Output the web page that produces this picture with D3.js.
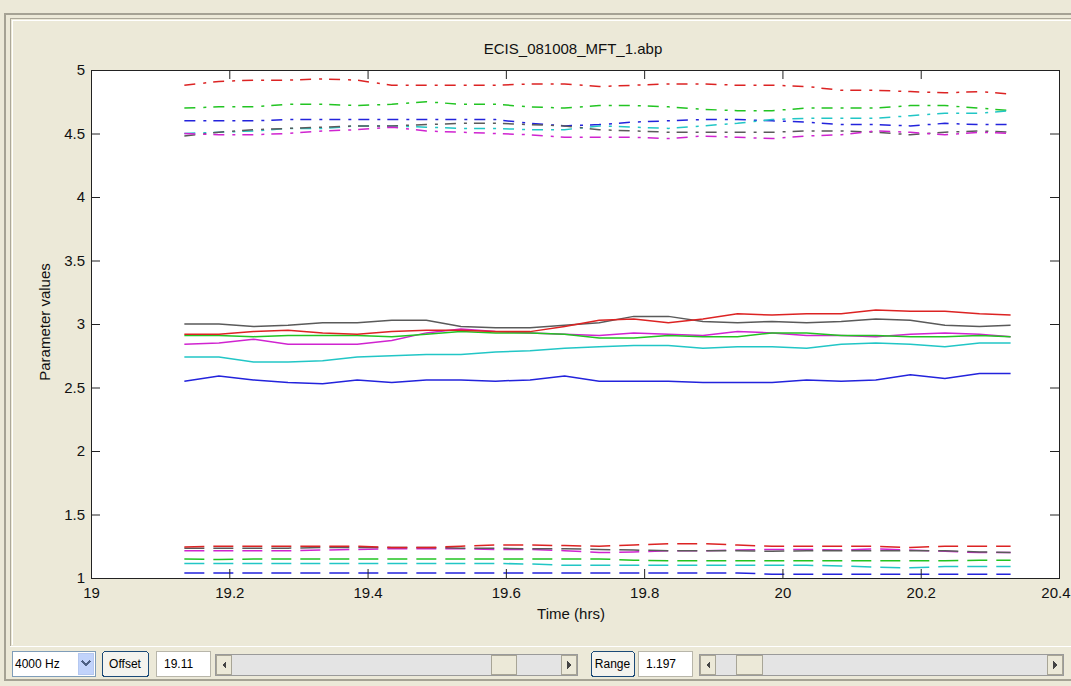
<!DOCTYPE html>
<html>
<head>
<meta charset="utf-8">
<script src="https://cdn.jsdelivr.net/npm/d3@7"></script>
<style>
  html, body { margin: 0; padding: 0; background: #ece9d8; }
  svg { display: block; }
  .tick text { font-family: "Liberation Sans Narrow", "Liberation Sans", Arial, sans-serif; font-size: 15px; fill: #111; }
  .ctl { font-family: "Liberation Sans", Arial, sans-serif; font-size: 12px; fill: #000; }
</style>
</head>
<body>
<svg id="chart"></svg>
<script>
// time axis (hrs)
const times = [19.135, 19.185, 19.235, 19.285, 19.335, 19.385, 19.435, 19.485, 19.535, 19.585, 19.635, 19.685, 19.735,
  19.785, 19.835, 19.885, 19.935, 19.985, 20.035, 20.085, 20.135, 20.185, 20.235, 20.285, 20.33]

// dash-dot group
const redDashDot = [4.88,4.91,4.92,4.92,4.93,4.92,4.88,4.88,4.88,4.88,4.89,4.89,4.87,4.88,4.89,4.89,4.88,4.88,4.87,4.84,4.84,4.83,4.82,4.83,4.81]
const greenDashDot = [4.70,4.71,4.71,4.73,4.73,4.72,4.73,4.75,4.73,4.73,4.71,4.70,4.72,4.72,4.71,4.69,4.68,4.68,4.70,4.70,4.70,4.72,4.72,4.70,4.68]
const blueDashDot = [4.60,4.60,4.60,4.61,4.61,4.61,4.61,4.61,4.61,4.61,4.58,4.56,4.57,4.59,4.60,4.61,4.61,4.60,4.59,4.57,4.57,4.56,4.58,4.57,4.57]
const cyanDashDot = [4.50,4.51,4.52,4.54,4.54,4.56,4.56,4.55,4.54,4.54,4.53,4.53,4.56,4.55,4.54,4.56,4.58,4.61,4.62,4.62,4.62,4.64,4.66,4.66,4.68]
const grayDashDot = [4.48,4.51,4.53,4.54,4.55,4.56,4.56,4.57,4.58,4.58,4.57,4.56,4.53,4.52,4.51,4.51,4.51,4.51,4.52,4.52,4.51,4.49,4.51,4.52,4.51]
const magentaDashDot = [4.50,4.49,4.49,4.50,4.52,4.53,4.55,4.52,4.51,4.50,4.49,4.47,4.47,4.47,4.46,4.48,4.47,4.46,4.48,4.49,4.52,4.51,4.49,4.51,4.50]

// solid group
const redSolid = [2.92,2.92,2.94,2.95,2.93,2.92,2.94,2.95,2.95,2.94,2.94,2.98,3.03,3.04,3.01,3.04,3.08,3.07,3.08,3.08,3.11,3.10,3.10,3.08,3.07]
const greenSolid = [2.91,2.91,2.90,2.91,2.91,2.91,2.90,2.92,2.94,2.93,2.93,2.92,2.89,2.89,2.91,2.90,2.90,2.93,2.93,2.91,2.91,2.90,2.90,2.91,2.90]
const blueSolid = [2.55,2.59,2.56,2.54,2.53,2.56,2.54,2.56,2.56,2.55,2.56,2.59,2.55,2.55,2.55,2.54,2.54,2.54,2.56,2.55,2.56,2.60,2.57,2.61,2.61]
const cyanSolid = [2.74,2.74,2.70,2.70,2.71,2.74,2.75,2.76,2.76,2.78,2.79,2.81,2.82,2.83,2.83,2.81,2.82,2.82,2.81,2.84,2.85,2.84,2.82,2.85,2.85]
const graySolid = [3.00,3.00,2.98,2.99,3.01,3.01,3.03,3.03,2.98,2.97,2.97,2.99,3.01,3.06,3.06,3.02,3.01,3.02,3.01,3.02,3.04,3.03,2.99,2.98,2.99]
const magentaSolid = [2.84,2.85,2.88,2.84,2.84,2.84,2.87,2.93,2.96,2.94,2.93,2.92,2.91,2.93,2.92,2.91,2.94,2.93,2.91,2.91,2.90,2.92,2.93,2.92,2.90]

// dashed group
const redDashed = [1.245,1.25,1.25,1.25,1.25,1.25,1.24,1.24,1.25,1.26,1.26,1.255,1.25,1.26,1.27,1.27,1.26,1.25,1.25,1.25,1.25,1.24,1.25,1.25,1.25]
const grayDashed = [1.235,1.235,1.235,1.235,1.24,1.24,1.24,1.24,1.235,1.235,1.23,1.23,1.225,1.22,1.215,1.215,1.215,1.21,1.215,1.215,1.215,1.215,1.215,1.205,1.20]
const magentaDashed = [1.215,1.215,1.215,1.215,1.22,1.225,1.23,1.23,1.23,1.225,1.225,1.215,1.20,1.205,1.215,1.215,1.22,1.225,1.225,1.22,1.23,1.22,1.21,1.20,1.20]
const greenDashed = [1.15,1.145,1.15,1.15,1.15,1.15,1.15,1.15,1.15,1.15,1.15,1.15,1.15,1.14,1.135,1.135,1.135,1.135,1.135,1.135,1.135,1.135,1.135,1.14,1.14]
const cyanDashed = [1.115,1.115,1.115,1.115,1.115,1.115,1.115,1.115,1.115,1.115,1.11,1.10,1.10,1.10,1.10,1.10,1.10,1.10,1.10,1.095,1.085,1.08,1.09,1.09,1.09]
const blueDashed = [1.04,1.04,1.04,1.04,1.04,1.04,1.04,1.04,1.04,1.04,1.04,1.04,1.04,1.04,1.04,1.04,1.04,1.03,1.03,1.03,1.03,1.03,1.03,1.03,1.03]

const xTicks = [19, 19.2, 19.4, 19.6, 19.8, 20, 20.2, 20.4]
const yTicks = [1, 1.5, 2, 2.5, 3, 3.5, 4, 4.5, 5]

const width = 1071, height = 686
const plot = {left: 91, top: 70, right: 1059, bottom: 578}

const colors = {red: '#dc2323', green: '#22c422', blue: '#2323dc', cyan: '#22c6c6', magenta: '#d024d0', gray: '#5a5a5a'}
const dashes = {dashdot: '11 8 3 7', solid: null, dashed: '20 9'}

const series = [
  {values: redDashDot, color: 'red', style: 'dashdot'},
  {values: greenDashDot, color: 'green', style: 'dashdot'},
  {values: blueDashDot, color: 'blue', style: 'dashdot'},
  {values: cyanDashDot, color: 'cyan', style: 'dashdot'},
  {values: grayDashDot, color: 'gray', style: 'dashdot'},
  {values: magentaDashDot, color: 'magenta', style: 'dashdot'},
  {values: blueSolid, color: 'blue', style: 'solid'},
  {values: cyanSolid, color: 'cyan', style: 'solid'},
  {values: magentaSolid, color: 'magenta', style: 'solid'},
  {values: greenSolid, color: 'green', style: 'solid'},
  {values: graySolid, color: 'gray', style: 'solid'},
  {values: redSolid, color: 'red', style: 'solid'},
  {values: blueDashed, color: 'blue', style: 'dashed'},
  {values: cyanDashed, color: 'cyan', style: 'dashed'},
  {values: greenDashed, color: 'green', style: 'dashed'},
  {values: magentaDashed, color: 'magenta', style: 'dashed'},
  {values: grayDashed, color: 'gray', style: 'dashed'},
  {values: redDashed, color: 'red', style: 'dashed'}
]

const svg = d3.select('#chart').attr('width', width).attr('height', height)

// window frame
const frame = svg.append('g').attr('shape-rendering', 'crispEdges').attr('fill', 'none')
frame.append('rect').attr('x', 4.5).attr('y', 13.5).attr('width', 1080).attr('height', 666)
  .attr('stroke', '#a5a294').attr('stroke-width', 2)
frame.append('path').attr('d', 'M10.5,646 V18.5 H1080').attr('stroke', '#aca899')
frame.append('path').attr('d', 'M12.5,645 V20.5 H1080').attr('stroke', '#fff')
frame.append('path').attr('d', 'M10,646.5 H1080').attr('stroke', '#fff')

// axes
const x = d3.scaleLinear().domain([19, 20.4]).range([plot.left, plot.right])
const y = d3.scaleLinear().domain([1, 5]).range([plot.bottom, plot.top])

svg.append('rect')
  .attr('x', plot.left).attr('y', plot.top)
  .attr('width', plot.right - plot.left).attr('height', plot.bottom - plot.top)
  .attr('fill', '#fff')

const line = d3.line()
  .x((d, i) => x(times[i]))
  .y(d => y(d))

svg.append('g').selectAll('path').data(series).enter()
  .append('path')
  .attr('d', d => line(d.values))
  .attr('fill', 'none')
  .attr('stroke', d => colors[d.color])
  .attr('stroke-width', 1.5)
  .attr('stroke-dasharray', d => dashes[d.style])

const tickLen = 9
const axisStyle = g => {
  g.select('.domain').remove()
  g.selectAll('.tick line').attr('stroke', '#222')
}

const xAxisG = svg.append('g').attr('transform', `translate(0,${plot.bottom})`)
  .call(d3.axisBottom(x).tickValues(xTicks).tickSize(-tickLen).tickPadding(9).tickFormat(d3.format('')))
  .call(axisStyle)
// last label sits at the window edge, keep it inside
xAxisG.selectAll('.tick text').filter(d => d === 20.4).attr('text-anchor', 'end').attr('x', 11)

svg.append('g').attr('transform', `translate(0,${plot.top})`)
  .call(d3.axisTop(x).tickValues(xTicks).tickSize(-tickLen).tickFormat(''))
  .call(axisStyle)
svg.append('g').attr('transform', `translate(${plot.left},0)`)
  .call(d3.axisLeft(y).tickValues(yTicks).tickSize(-tickLen).tickPadding(6).tickFormat(d3.format('')))
  .call(axisStyle)
svg.append('g').attr('transform', `translate(${plot.right},0)`)
  .call(d3.axisRight(y).tickValues(yTicks).tickSize(-tickLen).tickFormat(''))
  .call(axisStyle)

svg.selectAll('.tick text').attr('font-family', null).attr('font-size', null)

svg.append('rect')
  .attr('x', plot.left + 0.5).attr('y', plot.top + 0.5)
  .attr('width', plot.right - plot.left).attr('height', plot.bottom - plot.top)
  .attr('fill', 'none').attr('stroke', '#222').attr('shape-rendering', 'crispEdges')

// titles
const label = (txt, tx, ty, rot) => svg.append('text')
  .attr('transform', `translate(${tx},${ty})` + (rot ? ` rotate(${rot})` : ''))
  .attr('text-anchor', 'middle')
  .attr('font-family', '"Liberation Sans", Arial, sans-serif')
  .attr('font-size', '15px')
  .attr('fill', '#111')
  .text(txt)
label('ECIS_081008_MFT_1.abp', 573, 54)
label('Time (hrs)', 571, 619)
label('Parameter values', 50, 322, -90)

// bottom controls
const ctl = svg.append('g').attr('shape-rendering', 'crispEdges')
const cy = 651, ch = 25

// frequency dropdown
ctl.append('rect').attr('x', 12.5).attr('y', cy + 0.5).attr('width', 83).attr('height', ch)
  .attr('fill', '#fff').attr('stroke', '#7f9db9')
ctl.append('rect').attr('x', 78.5).attr('y', cy + 2.5).attr('width', 15).attr('height', ch - 4)
  .attr('fill', '#c1d3fb').attr('stroke', '#b5c8f0')
ctl.append('path').attr('d', `M82,${cy + 10} l4,4 l4,-4`).attr('fill', 'none')
  .attr('stroke', '#4d6185').attr('stroke-width', 2).attr('shape-rendering', null)
ctl.append('text').attr('class', 'ctl').attr('x', 15).attr('y', cy + 17).text('4000 Hz')

const button = (bx, bw, txt) => {
  ctl.append('rect').attr('x', bx + 0.5).attr('y', cy + 0.5).attr('width', bw).attr('height', ch)
    .attr('rx', 3).attr('fill', '#f4f3ee').attr('stroke', '#1c4a78').attr('shape-rendering', null)
  ctl.append('text').attr('class', 'ctl').attr('x', bx + bw / 2).attr('y', cy + 17)
    .attr('text-anchor', 'middle').text(txt)
}
const textbox = (bx, bw, txt) => {
  ctl.append('rect').attr('x', bx + 0.5).attr('y', cy + 0.5).attr('width', bw).attr('height', ch)
    .attr('fill', '#fff').attr('stroke', '#b8b6aa')
  ctl.append('text').attr('class', 'ctl').attr('x', bx + 8).attr('y', cy + 17).text(txt)
}
const scrollbar = (x0, x1, t0, t1) => {
  const sy = 654, sh = 21
  ctl.append('rect').attr('x', x0 + 0.5).attr('y', sy + 0.5).attr('width', x1 - x0).attr('height', sh)
    .attr('fill', '#e4e4e4').attr('stroke', '#9a9a9a')
  ;[[x0, 17], [x1 - 17, 17], [t0, t1 - t0]].forEach(([bx, bw]) => {
    ctl.append('rect').attr('x', bx + 1.5).attr('y', sy + 1.5).attr('width', bw - 2).attr('height', sh - 2)
      .attr('fill', '#ece9d8').attr('stroke', '#a8a596')
  })
  ctl.append('path').attr('d', `M${x0 + 7},${sy + 11} l4,-4 v8 z`).attr('fill', '#444').attr('shape-rendering', null)
  ctl.append('path').attr('d', `M${x1 - 6},${sy + 11} l-4,-4 v8 z`).attr('fill', '#444').attr('shape-rendering', null)
}

button(102, 46, 'Offset')
textbox(156, 54, '19.11')
scrollbar(215, 577, 490, 517)
button(591, 43, 'Range')
textbox(638, 54, '1.197')
scrollbar(699, 1063, 735, 763)
</script>
</body>
</html>
